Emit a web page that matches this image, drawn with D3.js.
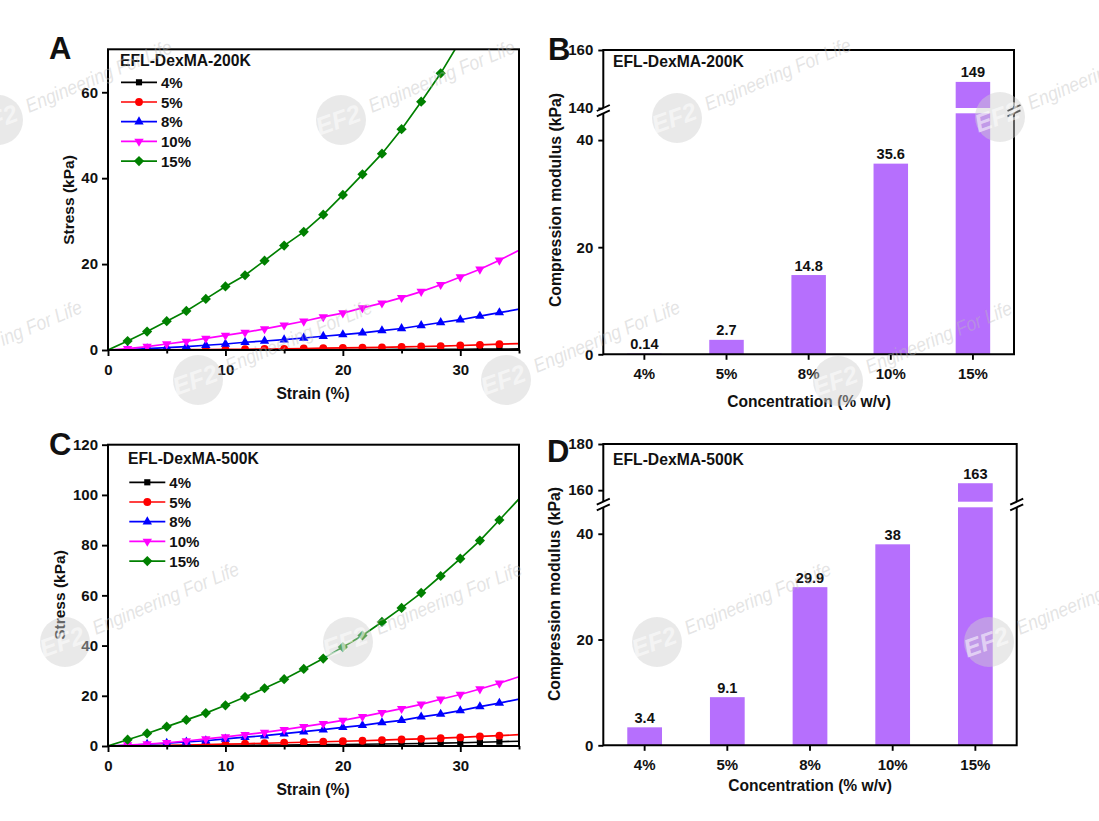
<!DOCTYPE html>
<html>
<head>
<meta charset="utf-8">
<script src="https://cdn.jsdelivr.net/npm/d3@7"></script>
<style>
    html, body { margin: 0; padding: 0; background: #fff; }
    svg { display: block; }
    text { font-family: "Liberation Sans", Arial, sans-serif; font-weight: bold; fill: #111; }
    .tick line { stroke: #000; stroke-width: 1.9; }
    .tick text { font-size: 15px; font-family: "Liberation Sans", Arial, sans-serif; fill: #111; }
    .frame { stroke: #000; stroke-width: 2; fill: none; }
</style>
</head>
<body>
<svg id="chart" width="1099" height="821"></svg>
<script>
/* strain of the curve samples, common to panels A and C */
const strain = [0, 1.67, 3.33, 5, 6.67, 8.33, 10, 11.67, 13.33, 15, 16.67, 18.33, 20, 21.67, 23.33, 25, 26.67, 28.33, 30, 31.67, 33.33, 35];

/* panel A - EFL-DexMA-200K */
const a4 = [0, 0, 0.01, 0.01, 0.02, 0.02, 0.03, 0.04, 0.05, 0.06, 0.07, 0.08, 0.09, 0.1, 0.11, 0.13, 0.14, 0.16, 0.18, 0.2, 0.22, 0.25];
const a5 = [0, 0.01, 0.03, 0.05, 0.07, 0.1, 0.14, 0.18, 0.23, 0.28, 0.35, 0.42, 0.48, 0.55, 0.62, 0.72, 0.82, 0.92, 1.05, 1.2, 1.35, 1.5];
const a8 = [0, 0.1, 0.3, 0.55, 0.8, 1.1, 1.4, 1.8, 2.1, 2.4, 2.8, 3.2, 3.6, 4.0, 4.5, 5.0, 5.7, 6.4, 7.05, 7.9, 8.7, 9.5];
const a10 = [0, 0.3, 0.8, 1.4, 2.0, 2.7, 3.4, 4.1, 4.9, 5.8, 6.7, 7.7, 8.6, 9.8, 10.9, 12.2, 13.6, 15.2, 17, 18.8, 20.9, 23.2];
const a15 = [0, 2.1, 4.3, 6.7, 9.1, 11.9, 14.8, 17.4, 20.8, 24.3, 27.5, 31.5, 36.1, 40.9, 45.7, 51.4, 57.8, 64.4, 72];

/* panel C - EFL-DexMA-500K */
const c4 = [0, 0.02, 0.05, 0.08, 0.12, 0.17, 0.22, 0.28, 0.34, 0.4, 0.47, 0.53, 0.6, 0.7, 0.8, 0.9, 1.0, 1.15, 1.3, 1.5, 1.7, 1.9];
const c5 = [0, 0.05, 0.15, 0.27, 0.4, 0.55, 0.75, 0.9, 1.1, 1.3, 1.5, 1.7, 1.9, 2.1, 2.35, 2.6, 2.85, 3.1, 3.4, 3.8, 4.1, 4.5];
const c8 = [0, 0.3, 0.7, 1.1, 1.6, 2.1, 2.8, 3.5, 4.1, 4.9, 5.7, 6.5, 7.4, 8.2, 9.3, 10.2, 11.6, 12.7, 14.1, 15.7, 17.1, 18.7];
const c10 = [0, 0.4, 0.8, 1.3, 2.0, 2.8, 3.6, 4.5, 5.4, 6.5, 7.7, 8.9, 10.2, 11.7, 13.3, 14.9, 16.6, 18.6, 20.5, 22.7, 25, 27.6];
const c15 = [0, 2.5, 5, 7.7, 10.4, 13.1, 16.2, 19.5, 23, 26.6, 30.7, 34.8, 39.4, 44, 49.4, 55, 61, 67.7, 74.6, 81.8, 90, 98.4];

/* bars of panels B and D */
const categories = ["4%", "5%", "8%", "10%", "15%"];
const modulus200 = [0.14, 2.7, 14.8, 35.6, 149];
const modulus500 = [3.4, 9.1, 29.9, 38, 163];
const labels200 = ["0.14", "2.7", "14.8", "35.6", "149"];
const labels500 = ["3.4", "9.1", "29.9", "38", "163"];

/* axis ticks */
const xTicks = [0, 10, 20, 30];
const xMinorTicks = [5, 15, 25, 35];
const yTicksA = [0, 20, 40, 60];
const yTicksC = [0, 20, 40, 60, 80, 100, 120];
const yTicksB = [0, 20, 40, 140, 160];
const yTicksD = [0, 20, 40, 160, 180];

/* legend */
const legendNames = ["4%", "5%", "8%", "10%", "15%"];
const seriesColors = ["#000000", "#ff0000", "#0000ff", "#ff00ff", "#008000"];
const barColor = "#b66ffd";

/* watermark stamps repeated over the figure */
const stampX = [-2, 341, 677, 1000, -92, 198, 506, 838, 65, 348, 657, 989];
const stampY = [120, 120, 118, 117, 380, 380, 380, 381, 642, 642, 642, 642];

const svg = d3.select("#chart");

/* one marker per series: square, circle, up triangle, down triangle, diamond */
function marker(sel, i, x, y) {
    const types = [d3.symbolSquare, d3.symbolCircle, d3.symbolTriangle, d3.symbolTriangle, d3.symbolSquare];
    const sizes = [38, 48, 38, 38, 52];
    const turn = [0, 0, 0, 180, 45];
    sel.append("path")
        .attr("d", d3.symbol().type(types[i]).size(sizes[i])())
        .attr("transform", `translate(${x},${y}) rotate(${turn[i]})`)
        .attr("fill", seriesColors[i]);
}

function styleAxis(g) {
    g.select(".domain").remove();
}

function panelText(g, str, x, y, size, anchor) {
    return g.append("text")
        .attr("x", x)
        .attr("y", y)
        .attr("font-size", size)
        .attr("text-anchor", anchor || "start")
        .text(str);
}

/* stress-strain panel */
function drawCurves(p) {
    const g = svg.append("g");
    const scaleX = d3.scaleLinear().domain([0, 35]).range([p.left, p.right]);
    const scaleY = d3.scaleLinear().domain([0, p.yMax]).range([p.bottom, p.top]);

    const clipId = "clip" + p.letter;
    g.append("clipPath").attr("id", clipId).append("rect")
        .attr("x", p.left).attr("y", p.top)
        .attr("width", p.right - p.left).attr("height", p.bottom - p.top);

    const plot = g.append("g").attr("clip-path", `url(#${clipId})`);
    const line = d3.line()
        .x((d, i) => scaleX(strain[i]))
        .y(d => scaleY(d));

    p.series.forEach(function (values, s) {
        plot.append("path")
            .attr("d", line(values))
            .attr("fill", "none")
            .attr("stroke", seriesColors[s])
            .attr("stroke-width", 1.7);

        /* no marker on the first and last sample */
        values.forEach(function (v, i) {
            if (i > 0 && strain[i] < 35) {
                marker(plot, s, scaleX(strain[i]), scaleY(v));
            }
        });
    });

    g.append("g")
        .attr("transform", `translate(0,${p.bottom})`)
        .call(d3.axisBottom(scaleX).tickValues(xTicks).tickFormat(d3.format("d")).tickSize(6).tickPadding(8))
        .call(styleAxis);
    g.append("g")
        .attr("transform", `translate(0,${p.bottom})`)
        .call(d3.axisBottom(scaleX).tickValues(xMinorTicks).tickFormat("").tickSize(3.5))
        .call(styleAxis);
    g.append("g")
        .attr("transform", `translate(${p.left},0)`)
        .call(d3.axisLeft(scaleY).tickValues(p.yTicks).tickFormat(d3.format("d")).tickSize(6).tickPadding(4))
        .call(styleAxis);

    g.append("rect")
        .attr("class", "frame")
        .attr("x", p.left).attr("y", p.top)
        .attr("width", p.right - p.left).attr("height", p.bottom - p.top);

    /* legend */
    legendNames.forEach(function (name, i) {
        const ly = p.legendY + i * 19.7;
        g.append("line")
            .attr("x1", p.legendX).attr("x2", p.legendX + 36)
            .attr("y1", ly).attr("y2", ly)
            .attr("stroke", seriesColors[i])
            .attr("stroke-width", 1.7);
        marker(g, i, p.legendX + 18, ly);
        panelText(g, name, p.legendX + 40, ly + 5.5, 15);
    });

    panelText(g, p.title, p.titleX, p.titleY, 15.7);
    panelText(g, p.letter, p.letterX, p.letterY, 31);
    panelText(g, "Strain (%)", 313, p.xTitleY, 15.7, "middle");
    panelText(g, "Stress (kPa)", 0, 0, 15.5, "middle")
        .attr("transform", `translate(${p.yTitleX},${p.yTitleCy}) rotate(-90)`);
}

/* two short slanted strokes where the axis is cut */
function breakMark(g, x, yLow, yHigh) {
    [yLow, yHigh].forEach(function (y) {
        g.append("line")
            .attr("x1", x - 6.5).attr("x2", x + 6.5)
            .attr("y1", y + 3).attr("y2", y - 3)
            .attr("stroke", "#000")
            .attr("stroke-width", 1.9);
    });
}

/* modulus panel with broken y axis */
function drawBars(p) {
    const g = svg.append("g");
    const scaleX = d3.scaleBand().domain(categories).range([p.left, p.right])
        .paddingInner(0.58).paddingOuter(0.29);
    const scaleY = d3.scaleLinear().domain(p.yDomain).range(p.yRange);
    const cutLow = p.yDomain[1];
    const cutHigh = p.yDomain[2];

    p.values.forEach(function (v, i) {
        const cat = categories[i];
        if (v > cutLow) {
            g.append("rect")
                .attr("x", scaleX(cat)).attr("width", scaleX.bandwidth())
                .attr("y", scaleY(cutLow)).attr("height", scaleY(0) - scaleY(cutLow))
                .attr("fill", barColor);
            g.append("rect")
                .attr("x", scaleX(cat)).attr("width", scaleX.bandwidth())
                .attr("y", scaleY(v)).attr("height", scaleY(cutHigh) - scaleY(v))
                .attr("fill", barColor);
        } else {
            g.append("rect")
                .attr("x", scaleX(cat)).attr("width", scaleX.bandwidth())
                .attr("y", scaleY(v)).attr("height", scaleY(0) - scaleY(v))
                .attr("fill", barColor);
        }
        panelText(g, p.labels[i], scaleX(cat) + scaleX.bandwidth() / 2, scaleY(v) - 4.5, 14.6, "middle");
    });

    g.append("g")
        .attr("transform", `translate(0,${p.bottom})`)
        .call(d3.axisBottom(scaleX).tickSize(5.5).tickPadding(9))
        .call(styleAxis);
    g.append("g")
        .attr("transform", `translate(${p.left},0)`)
        .call(d3.axisLeft(scaleY).tickValues(p.yTicks).tickFormat(d3.format("d")).tickSize(5).tickPadding(5))
        .call(styleAxis);

    /* frame, interrupted on both sides at the axis break */
    const yTop = scaleY(p.yDomain[3]);
    const yCutTop = scaleY(cutHigh);
    const yCutBottom = scaleY(cutLow);
    g.append("path")
        .attr("class", "frame")
        .attr("d", `M${p.left},${yCutTop}V${yTop}H${p.right}V${yCutTop}`);
    g.append("path")
        .attr("class", "frame")
        .attr("d", `M${p.left},${yCutBottom}V${p.bottom}H${p.right}V${yCutBottom}`);
    breakMark(g, p.left, yCutBottom, yCutTop);
    breakMark(g, p.right, yCutBottom, yCutTop);

    panelText(g, p.title, p.titleX, p.titleY, 15.7);
    panelText(g, p.letter, p.letterX, p.letterY, 31);
    panelText(g, "Concentration (% w/v)", p.xTitleX, p.xTitleY, 15.6, "middle");
    panelText(g, "Compression modulus (kPa)", 0, 0, 15.8, "middle")
        .attr("transform", `translate(${p.yTitleX},${p.yTitleCy}) rotate(-90)`);
}

drawCurves({
    letter: "A", letterX: 49, letterY: 59,
    left: 108, right: 519, top: 49.3, bottom: 350,
    yMax: 70, yTicks: yTicksA,
    series: [a4, a5, a8, a10, a15],
    title: "EFL-DexMA-200K", titleX: 120, titleY: 66,
    legendX: 121, legendY: 82.3,
    xTitleY: 399, yTitleX: 74, yTitleCy: 200
});

drawCurves({
    letter: "C", letterX: 49, letterY: 455,
    left: 108, right: 519, top: 444.7, bottom: 746,
    yMax: 120, yTicks: yTicksC,
    series: [c4, c5, c8, c10, c15],
    title: "EFL-DexMA-500K", titleX: 128, titleY: 463.5,
    legendX: 129.3, legendY: 482.3,
    xTitleY: 795, yTitleX: 65, yTitleCy: 595
});

drawBars({
    letter: "B", letterX: 548, letterY: 60,
    left: 603.3, right: 1014, bottom: 354.3,
    yDomain: [0, 45, 140, 160], yRange: [354.3, 113.3, 108, 50],
    yTicks: yTicksB,
    values: modulus200, labels: labels200,
    title: "EFL-DexMA-200K", titleX: 613, titleY: 66.5,
    xTitleX: 809, xTitleY: 406.5, yTitleX: 561, yTitleCy: 200
});

drawBars({
    letter: "D", letterX: 547, letterY: 461.5,
    left: 603.3, right: 1016.7, bottom: 745.3,
    yDomain: [0, 45, 155, 180], yRange: [745.3, 507.3, 501.7, 444],
    yTicks: yTicksD,
    values: modulus500, labels: labels500,
    title: "EFL-DexMA-500K", titleX: 613, titleY: 465,
    xTitleX: 810, xTitleY: 791, yTitleX: 560, yTitleCy: 594
});

/* faint watermark on top of everything */
const stamps = svg.append("g").attr("pointer-events", "none");
stampX.forEach(function (x, i) {
    const y = stampY[i];
    stamps.append("circle")
        .attr("cx", x).attr("cy", y).attr("r", 25)
        .attr("fill", "#cfcfcf").attr("fill-opacity", 0.45);
    stamps.append("text")
        .attr("transform", `translate(${x},${y + 8}) rotate(-20)`)
        .attr("text-anchor", "middle")
        .attr("font-size", 25)
        .attr("font-style", "italic")
        .style("fill", "#fff")
        .style("fill-opacity", 0.55)
        .text("EF2");
    stamps.append("text")
        .attr("transform", `translate(${x + 31},${y - 7}) rotate(-22.8)`)
        .attr("font-size", 20)
        .attr("font-style", "italic")
        .attr("textLength", 157)
        .attr("lengthAdjust", "spacingAndGlyphs")
        .style("font-weight", "normal")
        .style("fill", "#bbb")
        .style("fill-opacity", 0.4)
        .text("Engineering For Life");
});
</script>
</body>
</html>
